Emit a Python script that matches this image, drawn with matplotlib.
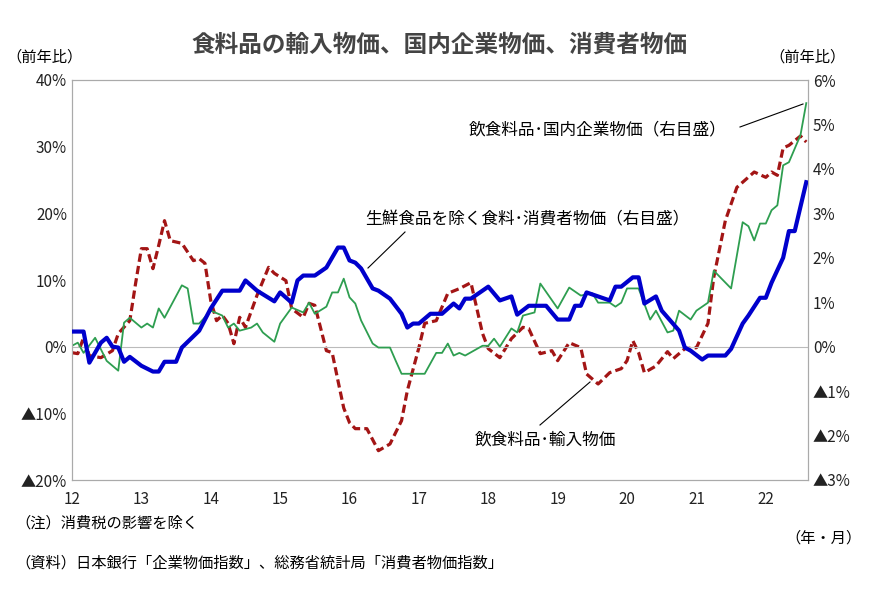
import matplotlib
matplotlib.use("Agg")
import matplotlib.pyplot as plt
from matplotlib.lines import Line2D

plt.rcParams["font.family"] = "Noto Sans CJK JP"

# month index from 2012/01
cpi_m = [0,2,3,5,6,7,8,9,10,12,14,15,16,18,19,22,24,26,29,30,32,35,36,38,39,40,42,44,46,47,48,49,50,52,53,55,57,58,59,60,62,64,66,67,68,69,72,74,76,77,79,82,84,86,87,88,89,91,93,94,95,97,98,99,101,102,105,106,107,109,110,113,114,116,117,119,120,121,123,124,125,127]
cpi_v = [0.34,0.34,-0.36,0.09,0.2,0,-0.02,-0.34,-0.23,-0.43,-0.56,-0.56,-0.34,-0.34,-0.02,0.36,0.86,1.26,1.26,1.49,1.26,1.02,1.22,0.99,1.49,1.6,1.6,1.78,2.23,2.23,1.94,1.89,1.76,1.31,1.26,1.08,0.74,0.43,0.52,0.52,0.74,0.74,0.97,0.86,1.08,1.08,1.35,1.04,1.13,0.72,0.92,0.92,0.61,0.61,0.92,0.92,1.22,1.13,1.04,1.35,1.35,1.56,1.56,0.97,1.13,0.81,0.36,-0.02,-0.09,-0.29,-0.2,-0.2,-0.05,0.52,0.7,1.1,1.1,1.44,2.0,2.6,2.6,3.7]

cgpi_m = [0,1,2,4,6,8,9,10,12,13,14,15,16,19,20,21,22,24,26,27,28,29,31,32,33,35,36,38,40,41,42,44,45,46,47,48,49,50,52,53,55,56,57,61,63,64,65,66,67,68,71,72,73,74,76,77,78,80,81,84,86,88,90,91,93,94,95,96,98,100,101,103,104,105,107,108,110,111,114,116,117,118,119,120,121,122,123,124,126,127]
cgpi_v = [0.02,0.09,-0.14,0.2,-0.32,-0.54,0.54,0.65,0.43,0.52,0.43,0.86,0.65,1.38,1.31,0.52,0.52,0.81,0.7,0.43,0.52,0.36,0.43,0.52,0.32,0.11,0.52,0.88,0.77,0.99,0.74,0.9,1.22,1.22,1.53,1.11,0.97,0.59,0.07,-0.02,-0.02,-0.32,-0.61,-0.61,-0.14,-0.14,0.07,-0.2,-0.14,-0.2,0.02,0.02,0.18,0.0,0.41,0.32,0.7,0.77,1.42,0.86,1.33,1.15,1.2,0.99,0.99,0.9,0.99,1.31,1.31,0.61,0.81,0.32,0.36,0.81,0.61,0.81,0.99,1.71,1.31,2.8,2.71,2.39,2.77,2.77,3.07,3.18,4.08,4.15,4.76,5.48]

imp_m = [0,1,2,3,5,7,8,10,11,12,13,14,15,16,17,19,21,22,23,24,25,26,27,28,29,30,32,34,35,37,38,40,41,42,44,45,46,47,48,49,51,53,55,57,58,60,61,63,65,67,69,71,72,74,76,78,79,81,83,84,86,88,89,91,93,95,96,97,98,99,101,103,104,106,108,110,111,113,115,118,120,121,122,123,124,126,127]
imp_v = [-0.9,-1.05,1.35,-1.35,-1.65,-0.6,1.95,3.9,9.5,14.7,14.7,11.7,15.2,18.9,15.9,15.5,12.9,13.2,12.5,6.9,3.9,4.7,3.5,0.45,4.4,2.9,7.7,11.9,11.0,9.9,5.7,4.4,6.5,6.2,-0.6,-0.9,-5.1,-9.2,-11.4,-12.3,-12.3,-15.6,-14.6,-11.1,-6.6,-0.15,3.5,3.9,8.0,8.7,9.6,2.0,-0.3,-1.65,1.2,2.9,2.7,-1.05,-0.6,-2.1,0.6,-0.15,-4.1,-5.6,-3.9,-3.3,-2.1,0.9,-0.9,-3.9,-2.9,-0.75,-1.8,-0.3,-0.15,3.5,10.4,18.9,23.9,26.2,25.4,26.2,25.7,29.8,30.2,31.6,30.7]

year_labels = ["12","13","14","15","16","17","18","19","20","21","22"]
left_ticks = [-20,-10,0,10,20,30,40]
right_ticks = [-3,-2,-1,0,1,2,3,4,5,6]

W, H = 879, 590
fig = plt.figure(figsize=(W/100, H/100), dpi=100)
ax = fig.add_axes([72/W, 1-480/H, (808-72)/W, 400/H])
ax2 = ax.twinx()

ax.plot(imp_m, imp_v, color="#A31515", lw=2.3, ls=(0, (2.6, 1.3)), zorder=3)
ax2.plot(cgpi_m, cgpi_v, color="#2E9E50", lw=1.3, zorder=2)
ax2.plot(cpi_m, cpi_v, color="#0000CC", lw=3, zorder=4)
ax2.axhline(0, color="#BBBBBB", lw=0.8, zorder=1)

ax.set_xlim(0, 127.3)
ax.set_ylim(-20, 40)
ax2.set_ylim(-3, 6)
ax.set_xticks(range(0, 121, 12))
ax.set_xticklabels(year_labels)
ax.set_yticks(left_ticks)
ax.set_yticklabels([("▲%d%%" % -t) if t < 0 else "%d%%" % t for t in left_ticks])
ax2.set_yticks(right_ticks)
ax2.set_yticklabels([("▲%d%%" % -t) if t < 0 else "%d%%" % t for t in right_ticks])
for a in (ax, ax2):
    a.tick_params(length=0, labelsize=11, colors="#222222")
    for s in a.spines.values():
        s.set_color("#AAAAAA")
ax.tick_params(axis="x", pad=8)

def ftext(x, y, s, **kw):
    fig.text(x/W, 1-y/H, s, **kw)

ftext(440, 45, "食料品の輸入物価、国内企業物価、消費者物価", ha="center", va="center", fontsize=17, fontweight="bold", color="#444444")
ftext(45, 57, "（前年比）", ha="center", va="center", fontsize=11)
ftext(808, 57, "（前年比）", ha="center", va="center", fontsize=11)
ftext(15, 523, "（注）消費税の影響を除く", ha="left", va="center", fontsize=11)
ftext(15, 563, "（資料）日本銀行「企業物価指数」、総務省統計局「消費者物価指数」", ha="left", va="center", fontsize=11)
ftext(862, 538, "（年・月）", ha="right", va="center", fontsize=11)

ftext(598, 130, "飲食料品･国内企業物価（右目盛）", ha="center", va="center", fontsize=12)
ftext(527, 220, "生鮮食品を除く食料･消費者物価（右目盛）", ha="center", va="center", fontsize=12)
ftext(545, 440, "飲食料品･輸入物価", ha="center", va="center", fontsize=12)

def fline(x0, y0, x1, y1):
    fig.add_artist(Line2D([x0/W, x1/W], [1-y0/H, 1-y1/H], color="black", lw=0.8))

fline(740, 127, 803, 104)
fline(405, 232, 368, 268)
fline(540, 425, 590, 382)

fig.savefig("out.png", dpi=100)
